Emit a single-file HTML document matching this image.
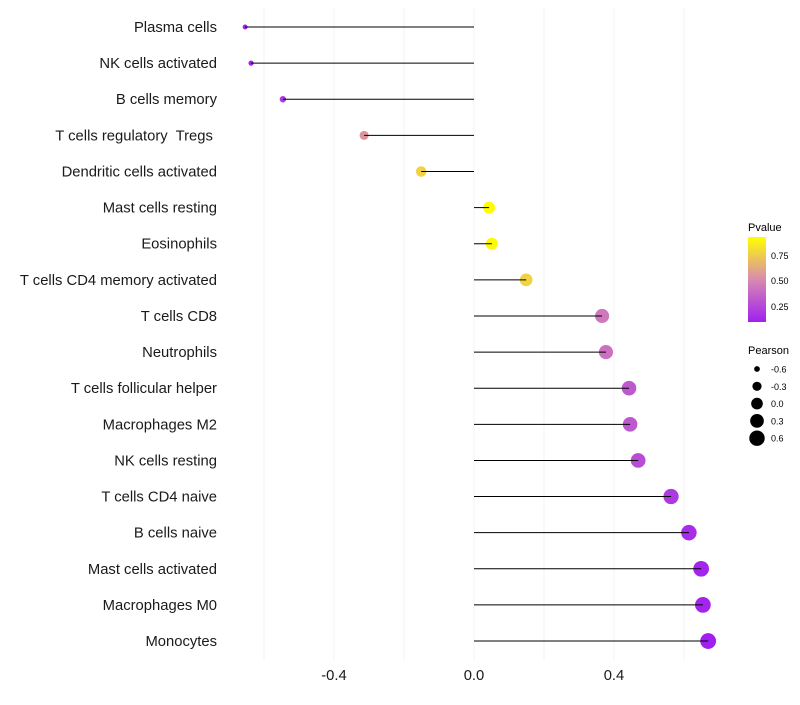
<!DOCTYPE html>
<html><head><meta charset="utf-8"><style>
body{margin:0;background:#fff;}
svg text{font-family:"Liberation Sans",sans-serif;white-space:pre;}
</style></head><body>
<svg id="chart" width="800" height="700">
<defs><linearGradient id="pg" x1="0" y1="1" x2="0" y2="0">
<stop offset="0" stop-color="#A020F0"/><stop offset="0.5" stop-color="#D88AB0"/><stop offset="1" stop-color="#FFFF00"/></linearGradient></defs>
<g id="grid"></g>
<g id="marks"></g>
<g id="ylabels"></g>
<g id="xlabels"></g>
<g>
<text x="748" y="231" font-size="11">Pvalue</text>
<rect x="748" y="237" width="18" height="85" fill="url(#pg)"/>
<text x="771" y="259" font-size="9">0.75</text>
<text x="771" y="284" font-size="9">0.50</text>
<text x="771" y="310" font-size="9">0.25</text>
</g>
<g id="sizeleg">
<text x="748" y="354" font-size="11">Pearson</text>
</g>
</svg>
<script>
const categories=["Plasma cells","NK cells activated","B cells memory","T cells regulatory  Tregs ","Dendritic cells activated","Mast cells resting","Eosinophils","T cells CD4 memory activated","T cells CD8","Neutrophils","T cells follicular helper","Macrophages M2","NK cells resting","T cells CD4 naive","B cells naive","Mast cells activated","Macrophages M0","Monocytes"];
const pearson=[-0.654,-0.637,-0.546,-0.314,-0.151,0.043,0.051,0.149,0.366,0.377,0.443,0.446,0.469,0.563,0.614,0.649,0.654,0.669];
const pvalue=[0.11,0.12,0.2,0.56,0.78,0.93,0.92,0.78,0.45,0.42,0.32,0.32,0.28,0.2,0.15,0.12,0.12,0.1];
const xTicks=[-0.4,0.0,0.4];
const gridVals=[-0.6,-0.4,-0.2,0,0.2,0.4,0.6];
const sizeLegend=[-0.6,-0.3,0.0,0.3,0.6];
const NS="http://www.w3.org/2000/svg";
const x=v=>474+v*350;
const y=i=>27+i*36.12;
const pMin=0.1,pMax=0.94;
function lerp(a,b,t){return a+(b-a)*t;}
function color(p){let t=Math.max(0,Math.min(1,(p-pMin)/(pMax-pMin)));
 const c0=[160,32,240],c1=[216,138,176],c2=[255,255,0];let a,b,u;
 if(t<0.5){a=c0;b=c1;u=t/0.5;}else{a=c1;b=c2;u=(t-0.5)/0.5;}
 return `rgb(${a.map((v,k)=>Math.round(lerp(v,b[k],u))).join(",")})`;}
function radius(v){const a0=4,a1=64;const t=(v+0.7)/1.4;return Math.sqrt(lerp(a0,a1,Math.max(0,Math.min(1,t))));}
function mk(tag,attrs,parent){const e=document.createElementNS(NS,tag);for(const k in attrs)e.setAttribute(k,attrs[k]);parent.appendChild(e);return e;}
const grid=document.getElementById("grid"),marks=document.getElementById("marks"),yl=document.getElementById("ylabels"),xl=document.getElementById("xlabels"),sl=document.getElementById("sizeleg");
gridVals.forEach(v=>{const l=mk("line",{x1:x(v),x2:x(v),y1:8,y2:660,stroke:"#f3f3f3","stroke-width":1},grid);
 
 });
categories.forEach((c,i)=>{
 const cy=y(i);
 const t=mk("text",{x:217,y:cy+5,"font-size":14.8,"text-anchor":"end",fill:"#1a1a1a"},yl);t.textContent=c;
 
 
 const d=mk("circle",{cx:x(pearson[i]),cy:cy,r:radius(pearson[i]),fill:color(pvalue[i])},marks);
 
 
 const s=mk("line",{x1:x(0),x2:x(pearson[i]),y1:cy,y2:cy,stroke:"#000","stroke-width":1},marks);
 
 
});
xTicks.forEach(v=>{const t=mk("text",{x:x(v),y:680,"font-size":14.8,"text-anchor":"middle",fill:"#1a1a1a"},xl);t.textContent=v.toFixed(1);
 
 });
sizeLegend.forEach((v,i)=>{const cy=369+i*17.3;
 const c=mk("circle",{cx:757,cy:cy,r:radius(v),fill:"#000"},sl);
 
 
 const t=mk("text",{x:771,y:cy+3.5,"font-size":9},sl);t.textContent=v.toFixed(1);
 
 });
</script>
</body></html>
